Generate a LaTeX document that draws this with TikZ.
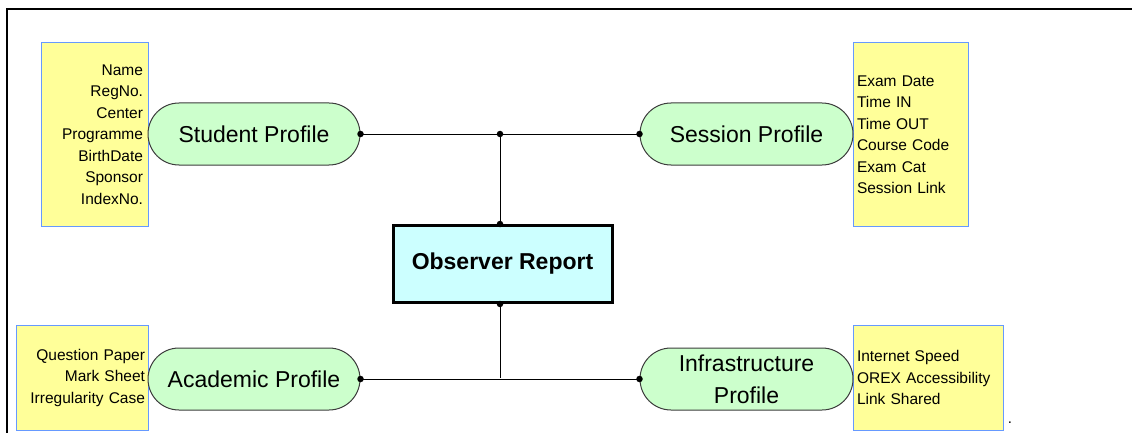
\documentclass[tikz,border=0pt]{standalone}
\usepackage{fontspec}
\setmainfont{Liberation Sans}
\definecolor{pillfill}{RGB}{204,255,204}
\definecolor{orfill}{RGB}{204,255,255}
\definecolor{notefill}{RGB}{255,255,153}
\definecolor{noteline}{RGB}{102,153,255}
\definecolor{pillline}{RGB}{60,60,60}
\begin{document}
\begin{tikzpicture}[x=1pt,y=-1pt,
  pill/.style={draw=pillline,line width=1pt,fill=pillfill,rounded corners=31pt,
    minimum width=212pt,minimum height=62pt,inner sep=0pt,align=center,
    font=\fontsize{23}{32}\selectfont},
  note/.style={draw=noteline,line width=1pt,fill=notefill,inner sep=0pt,
    font=\fontsize{15.5}{21.5}\selectfont},
  conn/.style={line width=0.9pt,black},
  jdot/.style={circle,fill=black,inner sep=0pt,minimum size=6.5pt}]
\useasboundingbox (0,0) rectangle (1132,433);
% frame
\draw[line width=2pt] (7,433) -- (7,9) -- (1132,9);
% notes
\node[note,minimum width=107pt,minimum height=183pt,text width=97pt,align=right] (sn) at (94.5,134.5)
  {Name\\RegNo.\\Center\\Programme\\BirthDate\\Sponsor\\IndexNo.};
\node[note,minimum width=115pt,minimum height=183pt,text width=107pt,align=left] (en) at (910.5,134.5)
  {Exam Date\\Time IN\\Time OUT\\Course Code\\Exam Cat\\Session Link};
\node[note,minimum width=132pt,minimum height=105pt,text width=126pt,align=right] (an) at (82,377.5)
  {Question Paper\\Mark Sheet\\Irregularity Case};
\node[note,minimum width=150pt,minimum height=105pt,text width=142pt,align=left] (in) at (928,377.5)
  {Internet Speed\\OREX Accessibility\\Link Shared};
% pills
\node[pill] (sp) at (254,134) {Student Profile};
\node[pill,minimum width=213pt] (se) at (746.5,134) {Session Profile};
\node[pill] (ap) at (254,379) {Academic Profile};
\node[pill,minimum width=213pt] (ip) at (746.5,379) {Infrastructure\\Profile};
% observer report
\node[draw=black,line width=3pt,fill=orfill,minimum width=219pt,minimum height=77pt,
  font=\fontsize{23}{27}\selectfont\bfseries] (or) at (502.5,264) {Observer Report};
% connectors
\coordinate (j1) at (500,134);
\coordinate (j2) at (500,378);
\draw[conn] (sp.east) -- (se.west);
\draw[conn] (j1) -- (j1 |- or.north);
\draw[conn] (ap.east) -- (ip.west);
\draw[conn] (j2 |- or.south) -- (j2);
\node[jdot] (d1) at (sp.east) {};
\node[jdot] (d2) at (se.west) {};
\node[jdot] (d3) at (j1) {};
\node[jdot] (d4) at (j1 |- or.north) {};
\node[jdot] (d5) at (ap.east) {};
\node[jdot] (d6) at (ip.west) {};
\node[jdot] (d7) at (j2 |- or.south) {};
\node[inner sep=0pt,font=\fontsize{15}{15}\selectfont] (dot) at (1010,423) {.};
\end{tikzpicture}
\end{document}
